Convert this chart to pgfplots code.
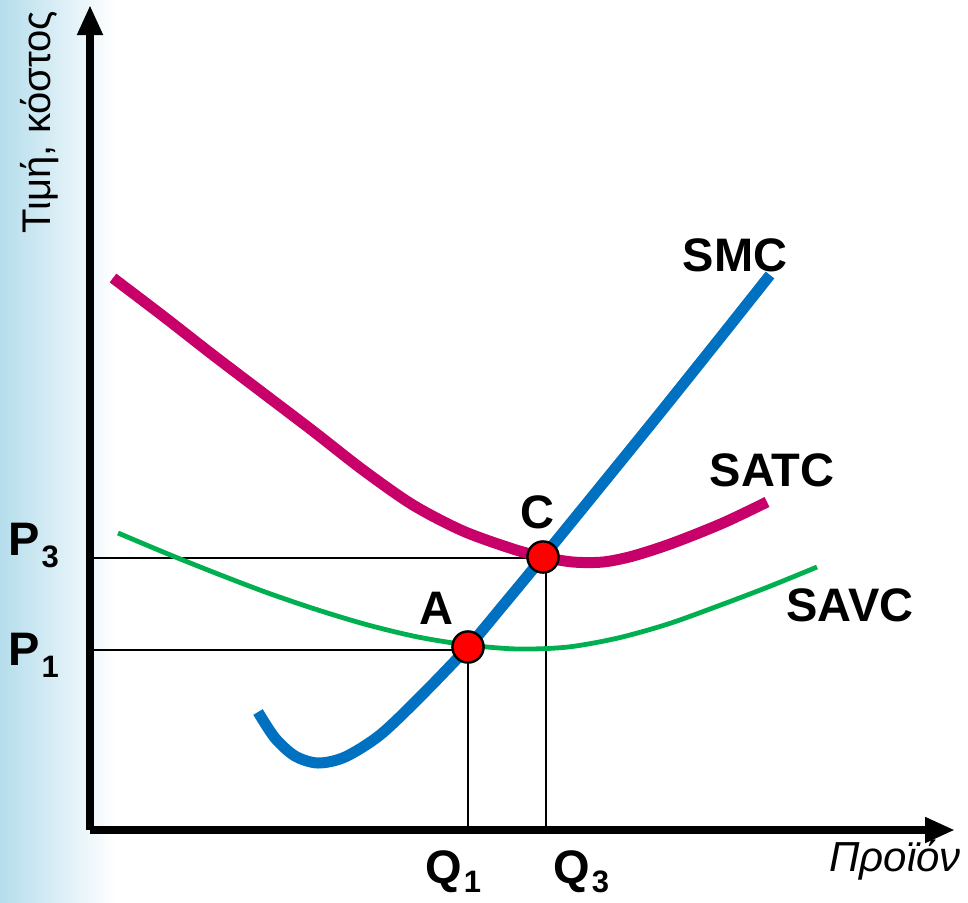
\documentclass[border=0pt]{standalone}
\usepackage{pgfplots}
\pgfplotsset{compat=1.18}
\usepackage{fontspec}
\setmainfont{Liberation Sans}
\usetikzlibrary{arrows.meta}

\definecolor{smcblue}{HTML}{0070C0}
\definecolor{atcmag}{HTML}{C8006A}
\definecolor{avcgreen}{HTML}{00B050}
\definecolor{stripblue}{HTML}{B5DDEC}

% coordinates: 1 unit = 1 px of the reference, origin at the axes' corner
\pgfplotstableread{
x y
168 118
185 92
205 74
228 67
255 73
290 95
330 133
378 183
415 227
453 273
510 343
570 417
630 492
680 555
}\smc

\pgfplotstableread{
x y
23 552
73 514
123 475
173 437
223 399
273 360
323 325
373 299
423 281
453 273
483 268
513 268
543 274
583 287
633 307
677 328
}\satc

\pgfplotstableread{
x y
28 297
78 276
128 256
178 237
228 220
278 205
328 193
378 185
428 181
478 183
528 192
578 206
628 224
678 243
727 263
}\savc

\tikzset{lab/.style={font=\fontsize{23.5}{28}\selectfont\bfseries}}
\newcommand\sub[2][6pt]{\kern1pt\raisebox{-#1}{\fontsize{15.5}{16}\selectfont #2}}

\begin{document}
\begin{tikzpicture}
\begin{axis}[
  set layers,
  scale only axis, width=432.5pt, height=412.5pt,
  xmin=0, xmax=865, ymin=0, ymax=825,
  axis lines=left, clip=false,
  axis line style={line width=4pt, -{Triangle[length=15pt,width=12pt]}},
  xtick=\empty, ytick=\empty,
]
  % background strip and picture extent
  \begin{pgfonlayer}{axis background}
    \fill[left color=stripblue, right color=white] (axis cs:-90,-72) rectangle (axis cs:25,830);
  \end{pgfonlayer}
  \path (axis cs:-90,-72) rectangle (axis cs:878,830);

  % guide lines
  \addplot[black, line width=0.8pt] coordinates {(0,272) (453,272)};
  \addplot[black, line width=0.8pt] coordinates {(0,180) (378,180)};
  \addplot[black, line width=0.8pt] coordinates {(456,0) (456,272)};
  \addplot[black, line width=0.8pt] coordinates {(378,0) (378,180)};

  \addplot[atcmag, line width=5.5pt, smooth] table {\satc};
  \addplot[avcgreen, line width=2.4pt, smooth] table {\savc};
  \addplot[smcblue, line width=5.5pt, smooth] table {\smc};

  \addplot[only marks, mark=*, mark size=7.8pt, mark options={fill=red, draw=black, line width=1.2pt}]
    coordinates {(378,183) (453,273)};

  \node[lab] at (axis cs:645,575) {SMC};
  \node[lab] at (axis cs:682,360) {SATC};
  \node[lab] at (axis cs:760,225) {SAVC};
  \node[lab] at (axis cs:447,318) {C};
  \node[lab] at (axis cs:346,222) {A};
  \node[lab, anchor=base west, inner sep=0pt] at (axis cs:-82,275) {P\sub{3}};
  \node[lab, anchor=base west, inner sep=0pt] at (axis cs:-82,165) {P\sub{1}};
  \node[lab, anchor=base west, inner sep=0pt] at (axis cs:335,-53) {Q\sub[4.5pt]{1}};
  \node[lab, anchor=base west, inner sep=0pt] at (axis cs:463,-53) {Q\sub[4.5pt]{3}};
  \node[font=\fontsize{21}{25}\selectfont\itshape] at (axis cs:805,-30) {Προϊόν};
  \node[font=\fontsize{20}{24}\selectfont, rotate=90] at (axis cs:-50,708) {Τιμή, κόστος};
\end{axis}
\end{tikzpicture}
\end{document}
